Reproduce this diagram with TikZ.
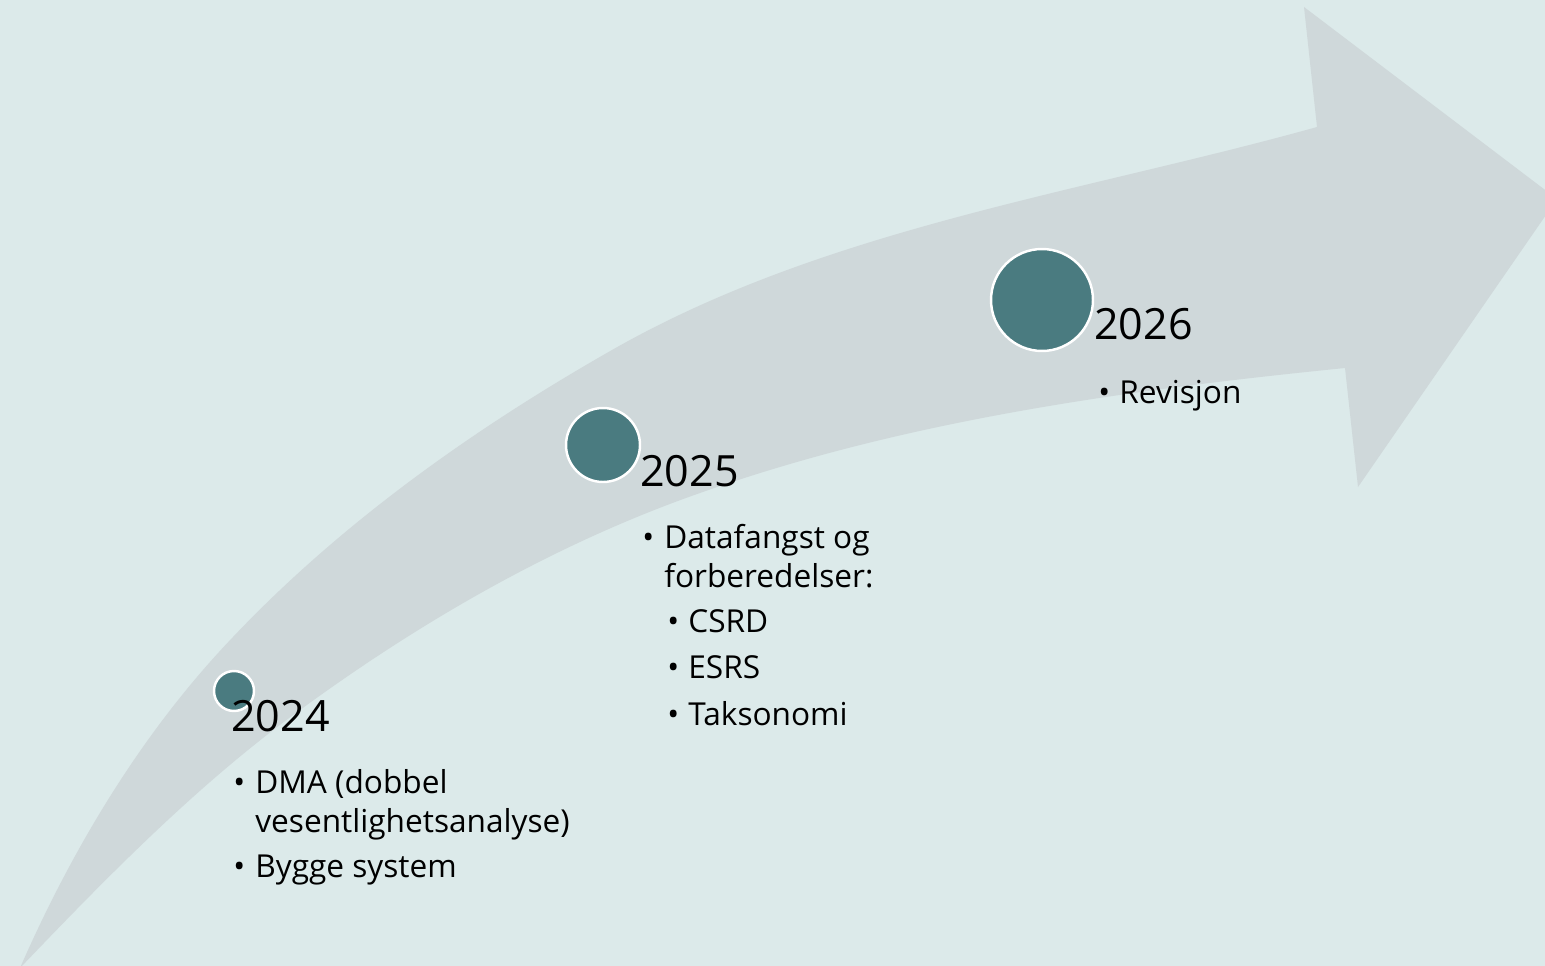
\documentclass[tikz,border=0pt]{standalone}
\usepackage{fontspec}
\setmainfont{Open Sans}
\usepackage{tikz}

\definecolor{bgblue}{HTML}{DCEAEA}
\definecolor{arrowgray}{HTML}{CFD8DA}
\definecolor{dotteal}{HTML}{4A7B80}

\tikzset{
    dot/.style={circle, fill=dotteal, draw=white, line width=1.4pt, inner sep=0pt},
    year/.style={anchor=base west, inner sep=0pt, font=\fontsize{24.5}{29}\selectfont},
    item/.style={anchor=base west, inner sep=0pt, font=\fontsize{18}{22}\selectfont}
}

\begin{document}
\begin{tikzpicture}[x=0.02cm,y=-0.02cm]
\useasboundingbox (0,0) rectangle (1545,966);
\clip (0,0) rectangle (1545,966);
\fill[bgblue] (0,0) rectangle (1545,966);

% Curved arrow
\fill[arrowgray] (20,968) .. controls (73,847) and (143,731) .. (233,637)
    .. controls (342,522) and (475,428) .. (612,350)
    .. controls (826,228) and (1080,193) .. (1317,127)
    -- (1304,7) -- (1557,199) -- (1358,487) -- (1345,368)
    .. controls (1127,390) and (906,420) .. (700,493)
    .. controls (557,543) and (423,620) .. (300,710)
    .. controls (198,784) and (108,876) .. (20,968) -- cycle;

% Milestones
\node[dot, minimum size=0.8cm] (c24) at (234,691) {};
\node[dot, minimum size=1.48cm] (c25) at (603,445) {};
\node[dot, minimum size=2.04cm] (c26) at (1042,300) {};

% 2024
\node[year] (y24) at (231,731) {2024};
\node[item] (b24a) at (233,793) {•};
\node[item] (t24a) at (255,793) {DMA (dobbel};
\node[item] (t24b) at (255,832) {vesentlighetsanalyse)};
\node[item] (b24c) at (233,877) {•};
\node[item] (t24c) at (255,877) {Bygge system};

% 2025
\node[year] (y25) at (640,486) {2025};
\node[item] (b25a) at (642,548) {•};
\node[item] (t25a) at (664,548) {Datafangst og};
\node[item] (t25b) at (664,587) {forberedelser:};
\foreach \name/\txt/\yy in {csrd/CSRD/632, esrs/ESRS/678, tax/Taksonomi/725} {
    \node[item] (b-\name) at (667,\yy) {•};
    \node[item] (t-\name) at (688,\yy) {\txt};
}

% 2026
\node[year] (y26) at (1094,339) {2026};
\node[item] (b26a) at (1098,403) {•};
\node[item] (t26a) at (1119,403) {Revisjon};
\end{tikzpicture}
\end{document}
